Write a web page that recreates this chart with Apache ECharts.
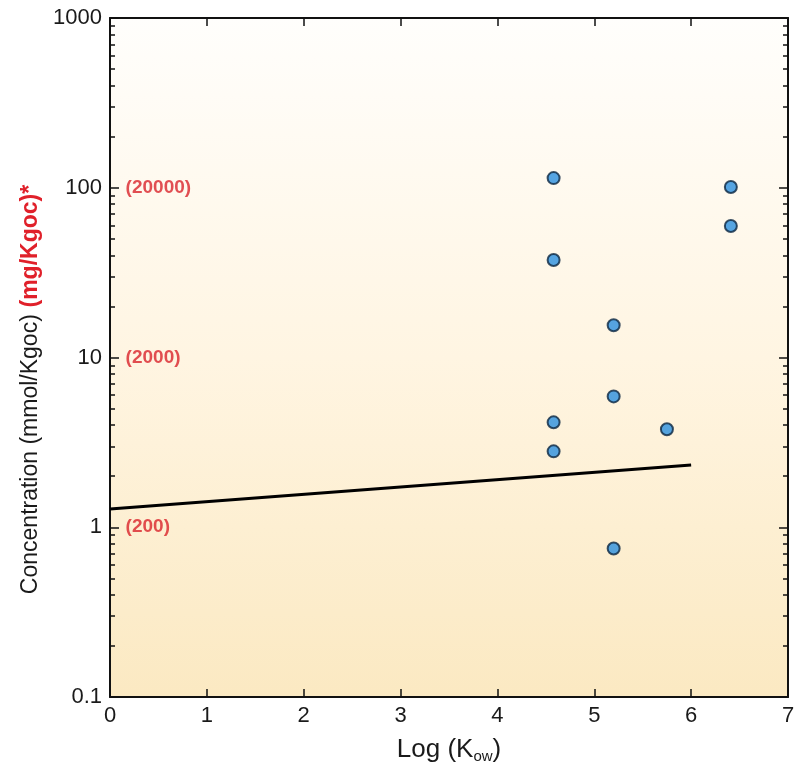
<!DOCTYPE html>
<html>
<head>
<meta charset="utf-8">
<script src="https://cdn.jsdelivr.net/npm/echarts@6/dist/echarts.min.js"></script>
<style>
  html, body { margin: 0; padding: 0; background: #fff; }
  #chart { width: 802px; height: 770px; }
</style>
</head>
<body>
<div id="chart"></div>
<script>
  // measured points: Log(Kow) vs concentration (mmol/Kgoc)
  var logKow = [4.58, 4.58, 4.58, 4.58, 5.2, 5.2, 5.2, 5.75, 6.41, 6.41];
  var conc = [114, 37.5, 4.15, 2.8, 15.5, 5.9, 0.75, 3.78, 101, 59.5];

  // fitted line
  var lineX = [0, 6];
  var lineY = [1.28, 2.33];

  // mg/Kgoc annotation at each decade
  var mgAt = [100, 10, 1];
  var mgLabels = ['(20000)', '(2000)', '(200)'];

  var yLabels = { 0.1: '0.1', 1: '1', 10: '10', 100: '100', 1000: '1000' };

  // minor ticks for log axis (2..9 of each decade), in log10 space
  var minorTicks = [];
  for (var e = -1; e < 3; e++) {
    for (var k = 2; k <= 9; k++) {
      minorTicks.push(Math.log10(k * Math.pow(10, e)));
    }
  }

  var chart = echarts.init(document.getElementById('chart'));

  var axisFont = 'Liberation Sans, Arial, sans-serif';
  var lineStyle = { color: '#111', width: 2 };
  var tickStyle = { color: '#111', width: 1.5 };

  chart.setOption({
    animation: false,
    grid: {
      left: 110, right: 14, top: 18, bottom: 73,
      show: true,
      borderWidth: 0,
      backgroundColor: new echarts.graphic.LinearGradient(0, 0, 0, 1, [
        { offset: 0, color: '#fffefc' },
        { offset: 0.5, color: '#fff5e2' },
        { offset: 1, color: '#fbe9c2' }
      ])
    },
    xAxis: [{
      type: 'value',
      min: 0, max: 7, interval: 1,
      position: 'bottom',
      name: '{a|Log (K}{s|ow}{a|)}',
      nameLocation: 'middle',
      nameGap: 38,
      nameTextStyle: {
        rich: {
          a: { fontSize: 26, color: '#1a1a1a', fontFamily: axisFont },
          s: { fontSize: 15, color: '#1a1a1a', fontFamily: axisFont, padding: [14, 0, 0, 0] }
        }
      },
      axisLine: { onZero: false, lineStyle: lineStyle },
      axisTick: { inside: true, length: 8, lineStyle: tickStyle },
      axisLabel: { fontSize: 22, color: '#1a1a1a', fontFamily: axisFont, margin: 8 },
      splitLine: { show: false }
    }, {
      type: 'value',
      min: 0, max: 7, interval: 1,
      position: 'top',
      axisLine: { onZero: false, lineStyle: lineStyle },
      axisTick: { inside: true, length: 8, lineStyle: tickStyle },
      axisLabel: { show: false },
      splitLine: { show: false }
    }],
    yAxis: [{
      type: 'log',
      min: 0.1, max: 1000,
      position: 'left',
      name: '{a|Concentration (mmol/Kgoc)}  {b|(mg/Kgoc)*}',
      nameLocation: 'middle',
      nameGap: 66,
      nameTextStyle: {
        padding: [0, 64, 0, 0],
        rich: {
          a: { fontSize: 23, color: '#1a1a1a', fontFamily: axisFont },
          b: { fontSize: 23, color: '#e0202a', fontWeight: 'bold', fontFamily: axisFont }
        }
      },
      axisLine: { onZero: false, lineStyle: lineStyle },
      axisTick: { inside: true, length: 9, lineStyle: tickStyle },
      axisLabel: { fontSize: 22, color: '#1a1a1a', fontFamily: axisFont, margin: 8,
        formatter: function (v) { return yLabels[v] || String(v); } },
      splitLine: { show: false }
    }, {
      type: 'log',
      min: 0.1, max: 1000,
      position: 'right',
      axisLine: { onZero: false, lineStyle: lineStyle },
      axisTick: { inside: true, length: 9, lineStyle: tickStyle },
      axisLabel: { show: false },
      splitLine: { show: false }
    }, {
      type: 'value',
      min: -1, max: 3,
      position: 'left',
      axisLine: { show: false, onZero: false },
      axisTick: { inside: true, length: 5, customValues: minorTicks, lineStyle: tickStyle },
      axisLabel: { show: false },
      splitLine: { show: false }
    }, {
      type: 'value',
      min: -1, max: 3,
      position: 'right',
      axisLine: { show: false, onZero: false },
      axisTick: { inside: true, length: 5, customValues: minorTicks, lineStyle: tickStyle },
      axisLabel: { show: false },
      splitLine: { show: false }
    }],
    series: [{
      type: 'line',
      xAxisIndex: 0, yAxisIndex: 0,
      data: lineX.map(function (x, i) { return [x, lineY[i]]; }),
      showSymbol: false,
      lineStyle: { color: '#000', width: 3 },
      z: 3
    }, {
      type: 'scatter',
      xAxisIndex: 0, yAxisIndex: 0,
      data: logKow.map(function (x, i) { return [x, conc[i]]; }),
      symbol: 'circle',
      symbolSize: 12,
      itemStyle: { color: '#2a8fdf', borderColor: '#0b2540', borderWidth: 2 },
      z: 4
    }, {
      type: 'scatter',
      xAxisIndex: 0, yAxisIndex: 0,
      data: mgAt.map(function (y) { return [0.12, y]; }),
      symbolSize: 0,
      silent: true,
      label: {
        show: true,
        position: 'right',
        distance: 4,
        fontSize: 19,
        fontWeight: 'bold',
        color: '#d9232b',
        fontFamily: axisFont,
        formatter: function (p) { return mgLabels[p.dataIndex]; }
      }
    }]
  });
</script>
</body>
</html>
